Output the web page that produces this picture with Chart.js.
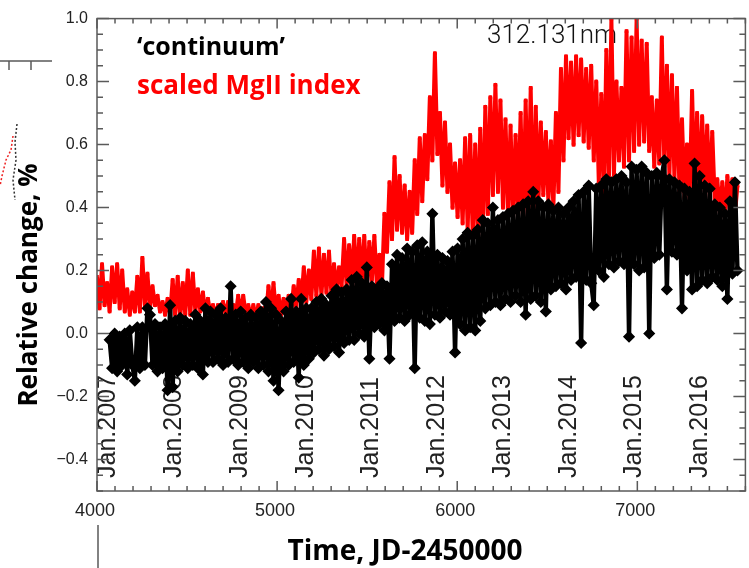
<!DOCTYPE html>
<html>
<head>
<meta charset="utf-8">
<script src="https://cdn.jsdelivr.net/npm/chart.js@4.4.1/dist/chart.umd.min.js"></script>
<style>
  html, body { margin: 0; padding: 0; background: #fff; overflow: hidden; }
  canvas { display: block; }
</style>
</head>
<body>
<canvas id="mgChart" width="752" height="568"></canvas>
<script>
// Relative change (%) of the 312.131 nm continuum and the scaled MgII index,
// one value every 14 days (JD-2450000)
const RED_START = 4000;
const BLACK_START = 4070;
const STEP_DAYS = 14;

const mgIndex = [
    0.18, 0.08, 0.22, 0.09, 0.16, 0.07, 0.21, 0.10,
    0.22, 0.08, 0.20, 0.07, 0.14, 0.06, 0.13, 0.07,
    0.18, 0.07, 0.24, 0.09, 0.19, 0.08, 0.15, 0.09,
    0.12, 0.07, 0.10, 0.06, 0.11, 0.06, 0.17, 0.06,
    0.18, 0.05, 0.16, 0.06, 0.20, 0.06, 0.19, 0.07,
    0.14, 0.07, 0.13, 0.06, 0.11, 0.06, 0.09, 0.06,
    0.09, 0.06, 0.10, 0.06, 0.10, 0.07, 0.09, 0.06,
    0.12, 0.06, 0.12, 0.06, 0.09, 0.05, 0.09, 0.05,
    0.09, 0.05, 0.08, 0.05, 0.15, 0.06, 0.16, 0.06,
    0.12, 0.06, 0.11, 0.06, 0.12, 0.07, 0.15, 0.08,
    0.17, 0.09, 0.21, 0.10, 0.20, 0.11, 0.26, 0.12,
    0.27, 0.12, 0.25, 0.13, 0.26, 0.12, 0.22, 0.14,
    0.21, 0.15, 0.30, 0.15, 0.28, 0.16, 0.31, 0.15,
    0.30, 0.16, 0.31, 0.14, 0.29, 0.17, 0.31, 0.15,
    0.25, 0.15, 0.38, 0.26, 0.48, 0.30, 0.56, 0.33,
    0.50, 0.32, 0.47, 0.30, 0.45, 0.32, 0.55, 0.38,
    0.62, 0.42, 0.63, 0.49, 0.75, 0.55, 0.89, 0.57,
    0.70, 0.47, 0.67, 0.45, 0.60, 0.40, 0.54, 0.37,
    0.55, 0.35, 0.62, 0.33, 0.63, 0.31, 0.60, 0.30,
    0.65, 0.30, 0.72, 0.38, 0.75, 0.44, 0.79, 0.45,
    0.74, 0.40, 0.68, 0.37, 0.66, 0.36, 0.63, 0.38,
    0.70, 0.33, 0.74, 0.35, 0.78, 0.32, 0.72, 0.40,
    0.67, 0.44, 0.64, 0.42, 0.61, 0.40, 0.70, 0.45,
    0.84, 0.55, 0.88, 0.62, 0.86, 0.60, 0.88, 0.63,
    0.87, 0.61, 0.84, 0.59, 0.85, 0.55, 0.80, 0.48,
    0.76, 0.42, 0.90, 0.48, 1.00, 0.50, 0.80, 0.55,
    0.78, 0.53, 0.96, 0.55, 0.94, 0.58, 1.00, 0.60,
    0.93, 0.61, 0.92, 0.58, 0.75, 0.53, 0.74, 0.54,
    0.94, 0.53, 0.85, 0.50, 0.82, 0.49, 0.78, 0.45,
    0.68, 0.43, 0.60, 0.42, 0.77, 0.44, 0.70, 0.42,
    0.69, 0.45, 0.66, 0.43, 0.64, 0.42, 0.49, 0.38,
    0.48, 0.36, 0.50, 0.40, 0.49, 0.38, 0.47
];

const continuum = [
    -0.02, -0.11, 0.00, -0.12, -0.01, -0.10, 0.00, -0.13,
    0.01, -0.10, -0.15, 0.02, -0.11, 0.02, -0.10, 0.08,
    0.06, -0.10, 0.03, -0.12, 0.02, -0.11, 0.03, -0.18,
    0.09, -0.17, 0.04, -0.12, 0.05, -0.10, 0.04, -0.11,
    0.03, -0.10, 0.06, -0.11, 0.04, -0.13, 0.08, -0.09,
    0.07, -0.09, 0.06, -0.08, 0.08, -0.10, 0.05, -0.09,
    0.15, -0.08, 0.06, -0.10, 0.07, -0.09, 0.05, -0.11,
    0.06, -0.09, 0.05, -0.11, 0.07, -0.10, 0.10, -0.12,
    0.08, -0.15, 0.06, -0.18, 0.04, -0.12, 0.07, -0.10,
    0.11, -0.09, 0.07, -0.14, 0.11, -0.10, 0.08, -0.08,
    0.08, -0.06, 0.10, -0.05, 0.11, -0.07, 0.09, -0.05,
    0.12, -0.04, 0.14, -0.06, 0.13, -0.03, 0.14, -0.02,
    0.17, -0.02, 0.18, 0.00, 0.16, -0.01, 0.21, -0.08,
    0.15, 0.02, 0.14, 0.03, 0.16, 0.01, 0.15, -0.08,
    0.22, 0.04, 0.25, 0.05, 0.24, 0.04, 0.27, 0.06,
    0.26, -0.11, 0.28, 0.05, 0.29, 0.04, 0.26, 0.03,
    0.38, 0.06, 0.25, 0.05, 0.24, 0.07, 0.23, 0.06,
    0.26, -0.06, 0.27, 0.03, 0.30, 0.01, 0.32, 0.02,
    0.31, 0.01, 0.33, 0.04, 0.36, 0.08, 0.35, 0.09,
    0.40, 0.10, 0.36, 0.09, 0.37, 0.11, 0.38, 0.10,
    0.39, 0.12, 0.40, 0.10, 0.41, 0.06, 0.42, 0.11,
    0.45, 0.12, 0.42, 0.10, 0.40, 0.07, 0.41, 0.14,
    0.39, 0.15, 0.40, 0.16, 0.38, 0.14, 0.40, 0.17,
    0.42, 0.18, 0.44, -0.03, 0.45, 0.17, 0.47, 0.16,
    0.09, 0.46, 0.20, 0.47, 0.18, 0.49, 0.22, 0.48,
    0.21, 0.49, 0.23, 0.50, 0.22, 0.48, -0.01, 0.53,
    0.22, 0.52, 0.20, 0.53, 0.21, 0.51, 0.00, 0.50,
    0.24, 0.51, 0.25, 0.50, 0.55, 0.14, 0.49, 0.26,
    0.48, 0.25, 0.47, 0.08, 0.46, 0.20, 0.45, 0.14,
    0.54, 0.15, 0.50, 0.17, 0.47, 0.16, 0.46, 0.18,
    0.41, 0.17, 0.40, 0.15, 0.38, 0.11, 0.42, 0.19,
    0.48, 0.20
];

// year markers (January 1st of each year)
const janLabels = ['Jan.2007', 'Jan.2008', 'Jan.2009', 'Jan.2010', 'Jan.2011',
                   'Jan.2012', 'Jan.2013', 'Jan.2014', 'Jan.2015', 'Jan.2016'];
const janDays = [4102, 4467, 4832, 5197, 5562, 5927, 6293, 6658, 7023, 7388];

const xTickValues = [4000, 5000, 6000, 7000];

function toPoints(start, values) {
    return values.map((v, i) => ({ x: start + i * STEP_DAYS, y: v }));
}

const AXIS_COLOR = '#5a5a5a';
const PLAIN_FONT = '"Liberation Sans", Arial, sans-serif';
const BOLD_FONT = '"Open Sans", "Liberation Sans", sans-serif';

const decorPlugin = {
    id: 'decor',
    beforeDatasetsDraw(chart) {
        const { ctx, scales: { x } } = chart;
        ctx.save();
        // rotated year labels sit under the data
        ctx.fillStyle = '#222';
        ctx.font = '25px ' + PLAIN_FONT;
        ctx.textBaseline = 'alphabetic';
        janDays.forEach((d, i) => {
            ctx.save();
            ctx.translate(x.getPixelForValue(d), 478);
            ctx.rotate(-Math.PI / 2);
            ctx.fillText(janLabels[i], 0, 0);
            ctx.restore();
        });
        ctx.fillStyle = '#111';
        ctx.font = '300 26px Roboto, sans-serif';
        ctx.fillText('312.131nm', 487, 43);
        ctx.restore();
    },
    afterDatasetsDraw(chart) {
        const { ctx, chartArea: a, scales: { x, y } } = chart;
        ctx.save();

        // frame and inward tick marks
        ctx.strokeStyle = AXIS_COLOR;
        ctx.lineWidth = 1.5;
        ctx.strokeRect(a.left, a.top, a.right - a.left, a.bottom - a.top);
        ctx.beginPath();
        for (let v = 4000; v <= 7600; v += 100) {
            const px = x.getPixelForValue(v);
            const len = v % 1000 === 0 ? 10 : 5;
            ctx.moveTo(px, a.bottom);
            ctx.lineTo(px, a.bottom - len);
            ctx.moveTo(px, a.top);
            ctx.lineTo(px, a.top + len);
        }
        for (let k = -10; k <= 20; k++) {
            const py = y.getPixelForValue(k * 0.05);
            const len = k % 4 === 0 ? 12 : 6;
            ctx.moveTo(a.left, py);
            ctx.lineTo(a.left + len, py);
            ctx.moveTo(a.right, py);
            ctx.lineTo(a.right - len, py);
        }
        ctx.stroke();

        // x tick labels
        ctx.fillStyle = '#222';
        ctx.font = '18px ' + PLAIN_FONT;
        ctx.textAlign = 'center';
        ctx.textBaseline = 'alphabetic';
        xTickValues.forEach(v => ctx.fillText(String(v), x.getPixelForValue(v) - 2, 516));
        ctx.textAlign = 'left';

        // stray pieces of the neighbouring panel on the left edge
        ctx.beginPath();
        ctx.moveTo(0, 61); ctx.lineTo(52, 61);
        ctx.moveTo(9, 61); ctx.lineTo(9, 70);
        ctx.moveTo(31, 61); ctx.lineTo(31, 70);
        ctx.moveTo(98, 525); ctx.lineTo(98, 568);
        ctx.stroke();
        ctx.setLineDash([2, 2]);
        ctx.strokeStyle = '#333';
        ctx.beginPath();
        ctx.moveTo(17, 124); ctx.lineTo(15, 142); ctx.lineTo(16, 160); ctx.lineTo(13, 180); ctx.lineTo(15, 200);
        ctx.stroke();
        ctx.strokeStyle = '#e22';
        ctx.beginPath();
        ctx.moveTo(13, 136); ctx.lineTo(11, 150); ctx.lineTo(6, 160); ctx.lineTo(2, 176); ctx.lineTo(0, 186);
        ctx.stroke();
        ctx.setLineDash([]);

        // series names
        ctx.textBaseline = 'alphabetic';
        ctx.fillStyle = '#000';
        ctx.font = 'bold 25px ' + BOLD_FONT;
        ctx.fillText('\u2018continuum\u2019', 137, 55);
        ctx.fillStyle = '#ff0000';
        ctx.font = 'bold 26px ' + BOLD_FONT;
        ctx.fillText('scaled MgII index', 137, 94);

        // axis titles
        ctx.fillStyle = '#000';
        ctx.textAlign = 'center';
        ctx.font = 'bold 28px ' + BOLD_FONT;
        ctx.fillText('Time, JD-2450000', 405, 560);
        ctx.translate(37, 285);
        ctx.rotate(-Math.PI / 2);
        ctx.font = 'bold 26px ' + BOLD_FONT;
        ctx.fillText('Relative change, %', 0, 0);

        ctx.restore();
    }
};

new Chart(document.getElementById('mgChart').getContext('2d'), {
    type: 'line',
    data: {
        datasets: [{
            label: 'continuum',
            data: toPoints(BLACK_START, continuum),
            borderColor: '#000',
            borderWidth: 4.4,
            borderJoinStyle: 'round',
            pointStyle: 'rectRot',
            pointRadius: 4.8,
            pointBorderWidth: 1.8,
            pointBorderColor: '#000',
            pointBackgroundColor: '#000',
            tension: 0
        }, {
            label: 'scaled MgII index',
            data: toPoints(RED_START, mgIndex),
            borderColor: '#ff0000',
            borderWidth: 4,
            borderJoinStyle: 'round',
            pointStyle: 'rect',
            pointRadius: 2.6,
            pointBorderWidth: 0,
            pointBackgroundColor: '#ff0000',
            tension: 0
        }]
    },
    options: {
        responsive: false,
        animation: false,
        devicePixelRatio: 1,
        layout: { padding: { top: 13, right: 2, left: 0, bottom: 0 } },
        plugins: {
            legend: { display: false },
            tooltip: { enabled: false }
        },
        scales: {
            x: {
                type: 'linear',
                min: 4000,
                max: 7600,
                grid: { display: false, drawTicks: false },
                border: { display: false },
                ticks: { display: false },
                afterFit: s => { s.height = 77; }
            },
            y: {
                min: -0.5,
                max: 1.0,
                grid: { display: false, drawTicks: false },
                border: { display: false },
                ticks: {
                    stepSize: 0.2,
                    padding: 9,
                    color: '#222',
                    font: { family: PLAIN_FONT, size: 16 },
                    callback: v => Math.abs(v + 0.5) < 1e-6 ? '' : v.toFixed(1).replace('-', '\u2212')
                },
                afterFit: s => { s.width = 97; }
            }
        }
    },
    plugins: [decorPlugin]
});
</script>
</body>
</html>
